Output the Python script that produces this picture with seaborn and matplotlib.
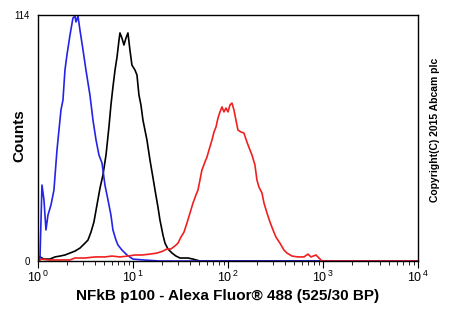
import numpy as np
import pandas as pd
import seaborn as sns
import matplotlib
matplotlib.use("Agg")
import matplotlib.pyplot as plt
from matplotlib.ticker import LogLocator, NullFormatter

# log10 of fluorescence intensity, and counts for each histogram
blue_log = [0, 0.021, 0.042, 0.063, 0.084, 0.105, 0.137, 0.168, 0.2, 0.221, 0.242, 0.263,
            0.284, 0.305, 0.337, 0.368, 0.389, 0.4, 0.421, 0.442, 0.474, 0.505, 0.547,
            0.579, 0.611, 0.642, 0.674, 0.705, 0.737, 0.768, 0.789, 0.821, 0.842, 0.884,
            0.937, 1.0, 1.105, 1.284, 4.0]
blue_cnt = [0, 1.4, 35.2, 28.3, 14.4, 21.3, 26.0, 32.9, 51.4, 60.7, 70.0, 74.6,
            88.5, 95.5, 104.7, 112.6, 113.5, 110.8, 113.5, 107.0, 97.8, 88.5, 76.9,
            65.3, 56.1, 49.1, 45.4, 35.2, 28.3, 21.3, 14.4, 9.7, 7.4, 5.1,
            2.8, 0.9, 0.5, 0, 0]

black_log = [0, 0.021, 0.063, 0.126, 0.179, 0.232, 0.284, 0.337, 0.389, 0.442, 0.495,
             0.526, 0.558, 0.589, 0.621, 0.653, 0.684, 0.716, 0.747, 0.768, 0.789, 0.811,
             0.832, 0.853, 0.863, 0.884, 0.905, 0.926, 0.947, 0.968, 0.989, 1.021, 1.042,
             1.063, 1.084, 1.105, 1.126, 1.147, 1.179, 1.211, 1.232, 1.263, 1.284, 1.316,
             1.337, 1.368, 1.411, 1.453, 1.495, 1.579, 1.632, 1.705, 4.0]
black_cnt = [0, 1.9, 0.9, 0.9, 1.9, 2.3, 2.8, 3.7, 4.6, 6.0, 8.3,
             9.7, 13.4, 18.1, 26.0, 33.8, 39.9, 49.1, 62.1, 72.3, 80.6, 88.5,
             94.5, 102.4, 105.7, 103.3, 100.1, 103.3, 105.7, 97.8, 90.8, 88.5, 86.2,
             76.9, 72.3, 65.3, 60.7, 56.1, 46.8, 38.5, 32.9, 25.0, 19.0, 12.0,
             8.3, 5.6, 3.7, 2.3, 1.4, 1.4, 0.9, 0, 0]

red_log = [0, 0.042, 0.105, 0.232, 0.337, 0.389, 0.495, 0.6, 0.705, 0.779, 0.863, 0.947,
           1.021, 1.095, 1.179, 1.253, 1.316, 1.358, 1.4, 1.442, 1.474, 1.505, 1.537,
           1.568, 1.6, 1.632, 1.663, 1.684, 1.705, 1.726, 1.758, 1.779, 1.8, 1.832,
           1.853, 1.874, 1.895, 1.916, 1.937, 1.958, 1.979, 2.0, 2.021, 2.042, 2.063,
           2.084, 2.105, 2.137, 2.168, 2.2, 2.232, 2.253, 2.284, 2.305, 2.326, 2.358,
           2.379, 2.411, 2.442, 2.474, 2.505, 2.547, 2.589, 2.621, 2.674, 2.737, 2.8,
           2.842, 2.874, 2.926, 2.958, 2.989, 4.0]
red_cnt = [0, 0.9, 0.5, 0.5, 0.5, 1.4, 1.4, 1.9, 1.9, 2.3, 1.9, 2.3,
           2.8, 2.8, 3.2, 3.7, 4.6, 5.6, 5.6, 7.0, 8.3, 11.1, 13.4,
           17.6, 22.2, 26.9, 30.6, 32.9, 37.5, 42.2, 45.9, 48.2, 51.4, 56.1,
           59.8, 62.1, 66.3, 69.1, 71.4, 69.1, 70.9, 69.1, 72.3, 73.2, 70.0,
           65.3, 60.7, 59.8, 59.3, 55.1, 51.4, 49.1, 44.5, 37.5, 34.3, 31.5,
           26.9, 22.2, 18.1, 14.4, 11.1, 8.3, 5.1, 3.7, 2.3, 1.9, 1.9,
           3.2, 1.9, 2.8, 1.4, 0, 0]

xlabel = "NFkB p100 - Alexa Fluor\u00ae 488 (525/30 BP)"
ylabel = "Counts"
ymax = 114

sns.set_style("white")
plt.rcParams['font.family'] = ['Liberation Sans', 'DejaVu Sans']
plt.rcParams['mathtext.fontset'] = 'custom'
plt.rcParams['mathtext.rm'] = 'Liberation Sans'
for k in ['text.color', 'axes.labelcolor', 'xtick.color', 'ytick.color']:
    plt.rcParams[k] = 'black'

fig = plt.figure(figsize=(4.5, 3.3), dpi=100)
ax = fig.add_axes([0.0844, 0.209, 0.8444, 0.7455])

for lg, cnt, col in [(black_log, black_cnt, "black"),
                     (blue_log, blue_cnt, "#2424e6"),
                     (red_log, red_cnt, "#f02020")]:
    df = pd.DataFrame({"x": np.power(10.0, lg), "y": cnt})
    sns.lineplot(data=df, x="x", y="y", color=col, lw=1.2, ax=ax,
                 sort=False, estimator=None)

ax.set_xscale("log")
ax.set_xlim(1, 1e4)
ax.set_ylim(0, ymax)
ax.set_xticks([1, 10, 100, 1000, 10000])
ax.set_xticklabels([r"$\mathregular{10^{\,%d}}$" % k for k in range(5)], fontsize=9)
ax.xaxis.set_minor_locator(LogLocator(base=10, subs=np.arange(2, 10)))
ax.xaxis.set_minor_formatter(NullFormatter())
ax.tick_params(axis="x", which="major", direction="out", length=5, width=0.8,
               bottom=True, pad=1)
ax.tick_params(axis="x", which="minor", direction="out", length=3, width=0.6,
               bottom=True)
ax.set_yticks([0, ymax])
ax.set_yticklabels(["0", "114"], fontsize=7)
ax.tick_params(axis="y", length=0, pad=6)

for s in ax.spines.values():
    s.set_color("black")
    s.set_linewidth(1.0)

ax.set_xlabel(xlabel, fontsize=11, fontweight="bold")
ax.xaxis.set_label_coords(0.5, -0.115)
ax.set_ylabel(ylabel, fontsize=11, fontweight="bold")
ax.yaxis.set_label_coords(-0.03, 0.51)

fig.text(0.967, 0.606, "Copyright(C) 2015 Abcam plc", rotation=90, fontsize=7.5,
         fontweight="bold", ha="center", va="center")

fig.savefig("out.png", dpi=100)
